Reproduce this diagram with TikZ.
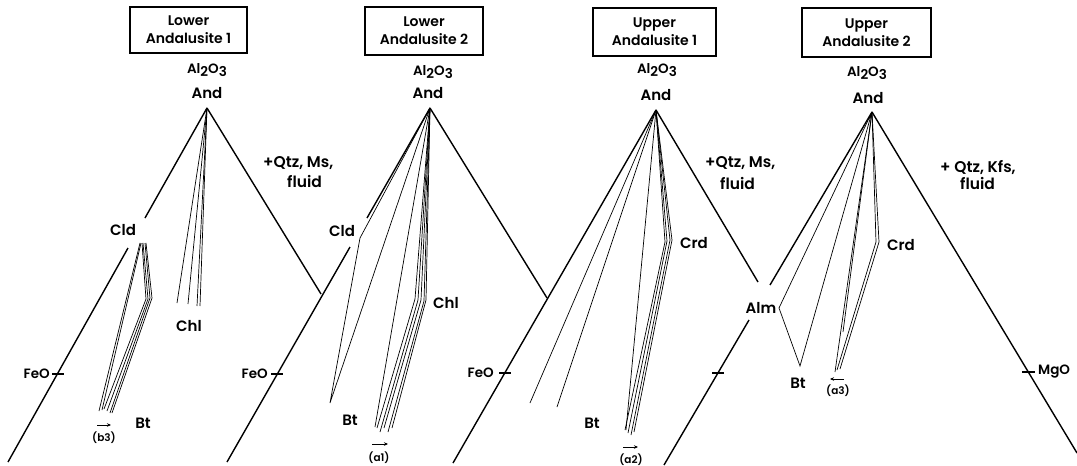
\documentclass[tikz,border=0pt]{standalone}
\usepackage{fontspec}
\setmainfont{Poppins}[BoldFont=*-SemiBold]
\usetikzlibrary{arrows.meta}
\newcommand{\sbs}[1]{\raisebox{-0.35ex}{#1}}
\begin{document}
\begin{tikzpicture}[x=1pt,y=-1pt,
  side/.style={line width=1.4pt},
  tie/.style={line width=0.7pt},
  lbl/.style={font=\fontsize{15}{15}\selectfont\bfseries, inner sep=0pt},
  oxide/.style={font=\fontsize{13.5}{13.5}\selectfont\bfseries, inner sep=0pt},
  note/.style={font=\fontsize{15.5}{15.5}\selectfont\bfseries, inner sep=0pt, anchor=west},
  tag/.style={font=\fontsize{10.5}{10.5}\selectfont\bfseries, inner sep=0pt},
  titlebox/.style={draw, line width=1.3pt, align=center, font=\fontsize{14}{18}\selectfont\bfseries, inner sep=0pt},
  tick/.style={line width=1.2pt},
  dirarrow/.style={line width=0.8pt, -{Stealth[length=4pt,width=3.5pt]}}
]
\useasboundingbox (0,0) rectangle (1077,466);

% ---------------- titles ----------------
\node[titlebox, minimum width=117pt, minimum height=46pt] (t1) at (188.5,30) {Lower\\Andalusite 1};
\node[titlebox, minimum width=118pt, minimum height=48pt] (t2) at (424,31) {Lower\\Andalusite 2};
\node[titlebox, minimum width=123pt, minimum height=48pt] (t3) at (654.5,32) {Upper\\Andalusite 1};
\node[titlebox, minimum width=129pt, minimum height=49pt] (t4) at (866.5,32.5) {Upper\\Andalusite 2};

\node[oxide] (al1) at (207,70) {Al\sbs{2}O\sbs{3}};
\node[oxide] (al2) at (433,72) {Al\sbs{2}O\sbs{3}};
\node[oxide] (al3) at (657,70) {Al\sbs{2}O\sbs{3}};
\node[oxide] (al4) at (867,73) {Al\sbs{2}O\sbs{3}};

\node[lbl] (and1) at (207,93) {And};
\node[lbl] (and2) at (428,93) {And};
\node[lbl] (and3) at (656,95) {And};
\node[lbl] (and4) at (868,98) {And};

\node[note] (n1a) at (263,163) {+Qtz, Ms,};
\node[note] (n1b) at (287,181) {fluid};
\node[note] (n3a) at (705,163) {+Qtz, Ms,};
\node[note] (n3b) at (720,183) {fluid};
\node[note] (n4a) at (940,167) {+ Qtz, Kfs,};
\node[note] (n4b) at (960,183) {fluid};

% ---------------- apexes and corners ----------------
\coordinate (A1) at (207,108);
\coordinate (A2) at (430,108);
\coordinate (A3) at (656,110);
\coordinate (A4) at (872,112);

% panel 1 sides
\coordinate (p1lu) at (145,218);
\coordinate (p1ll) at (128,248);
\coordinate (p1lb) at (8,462);
\coordinate (p12) at (321,294);
\draw[side] (A1) -- (p1lu);
\draw[side] (p1ll) -- (p1lb);
\draw[side] (A1) -- (p12);
% panel 2 sides
\coordinate (p2lu) at (367,218);
\coordinate (p2ll) at (350,247);
\coordinate (p2lb) at (227,462);
\coordinate (p23) at (547,298);
\draw[side] (A2) -- (p2lu);
\draw[side] (p2ll) -- (p2lb);
\draw[side] (A2) -- (p23);
% panel 3 sides
\coordinate (p3lb) at (453,463);
\coordinate (p3ru) at (758,282);
\draw[side] (A3) -- (p3lb);
\draw[side] (A3) -- (p3ru);
% panel 4 sides
\coordinate (p4lu) at (770,285);
\coordinate (p4ll) at (749,320);
\coordinate (p4lb) at (664,465);
\coordinate (p4rb) at (1077,453);
\draw[side] (A4) -- (p4lu);
\draw[side] (p4ll) -- (p4lb);
\draw[side] (A4) -- (p4rb);

% ---------------- ticks and oxide labels ----------------
\draw[tick] (52,374) -- (64,374);
\node[oxide, anchor=east] (feo1) at (50,374) {FeO};
\draw[tick] (271,374) -- (283,374);
\node[oxide, anchor=east] (feo2) at (268,374) {FeO};
\draw[tick] (499,373) -- (511,373);
\node[oxide, anchor=east] (feo3) at (494,373) {FeO};
\draw[tick] (712,373) -- (724,373);
\draw[tick] (1022,372) -- (1035,372);
\node[oxide, anchor=west] (mgo) at (1038,372) {MgO};

% ---------------- panel 1 ----------------
\node[lbl] (cld1) at (123,230) {Cld};
\node[lbl] (chl1) at (189,326) {Chl};
\node[lbl] (bt1) at (143,423) {Bt};
\node[tag] (b3) at (104,438) {(b3)};
\coordinate (b3s) at (97,425);
\coordinate (b3e) at (111,425);
\draw[dirarrow] (b3s) -- (b3e);

\foreach \e in {(177,303),(188,304),(197,306),(200,306)}
  \draw[tie] (A1) -- \e;
\coordinate (c1a) at (140,243);
\coordinate (c1b) at (141,243);
\draw[tie] (c1a) -- (99,411);
\draw[tie] (c1b) -- (102,410);
\draw[tie] (142,243) -- (146,299) -- (104,409);
\draw[tie] (143,243) -- (148,299) -- (107,411);
\draw[tie] (145,243) -- (150,298) -- (110,413);
\draw[tie] (146,243) -- (152,298) -- (112,413);

% ---------------- panel 2 ----------------
\node[lbl] (cld2) at (342,231) {Cld};
\node[lbl] (chl2) at (446,303) {Chl};
\node[lbl] (bt2) at (350,420) {Bt};
\node[tag] (a1) at (379,458) {(a1)};
\coordinate (a1s) at (372,444);
\coordinate (a1e) at (388,444);
\draw[dirarrow] (a1s) -- (a1e);

\coordinate (C2) at (360,238);
\coordinate (B2) at (330,403);
\draw[tie] (A2) -- (C2) -- (B2) -- (A2);
\draw[tie] (A2) -- (375,427);
\draw[tie] (A2) -- (415,299) -- (377,428);
\draw[tie] (A2) -- (418,300) -- (380,432);
\draw[tie] (A2) -- (421,300) -- (384,428);
\draw[tie] (A2) -- (424,301) -- (388,432);
\draw[tie] (A2) -- (426,300) -- (392,428);

% ---------------- panel 3 ----------------
\node[lbl] (crd3) at (694,243) {Crd};
\node[lbl] (bt3) at (592,423) {Bt};
\node[tag] (a2) at (631,460) {(a2)};
\coordinate (a2s) at (623,447);
\coordinate (a2e) at (638,447);
\draw[dirarrow] (a2s) -- (a2e);

\draw[tie] (A3) -- (530,403);
\draw[tie] (A3) -- (557,407);
\draw[tie] (A3) -- (626,430);
\draw[tie] (A3) -- (665,242) -- (625,430);
\draw[tie] (A3) -- (667,241) -- (628,433);
\draw[tie] (A3) -- (670,240) -- (631,435);
\draw[tie] (A3) -- (672,240) -- (634,432);

% ---------------- panel 4 ----------------
\node[lbl] (alm4) at (761,308) {Alm};
\node[lbl] (crd4) at (901,245) {Crd};
\node[lbl] (bt4) at (798,383) {Bt};
\node[tag] (a3) at (838,391) {(a3)};
\coordinate (a3s) at (844,379);
\coordinate (a3e) at (830,379);
\draw[dirarrow] (a3s) -- (a3e);

\coordinate (M4) at (779,308);
\coordinate (B4) at (800,366);
\draw[tie] (A4) -- (M4) -- (B4) -- (A4);
\draw[tie] (A4) -- (843,332);
\draw[tie] (A4) -- (835,372);
\draw[tie] (A4) -- (876,242) -- (837,370);
\draw[tie] (A4) -- (879,242) -- (840,369);
\end{tikzpicture}
\end{document}
